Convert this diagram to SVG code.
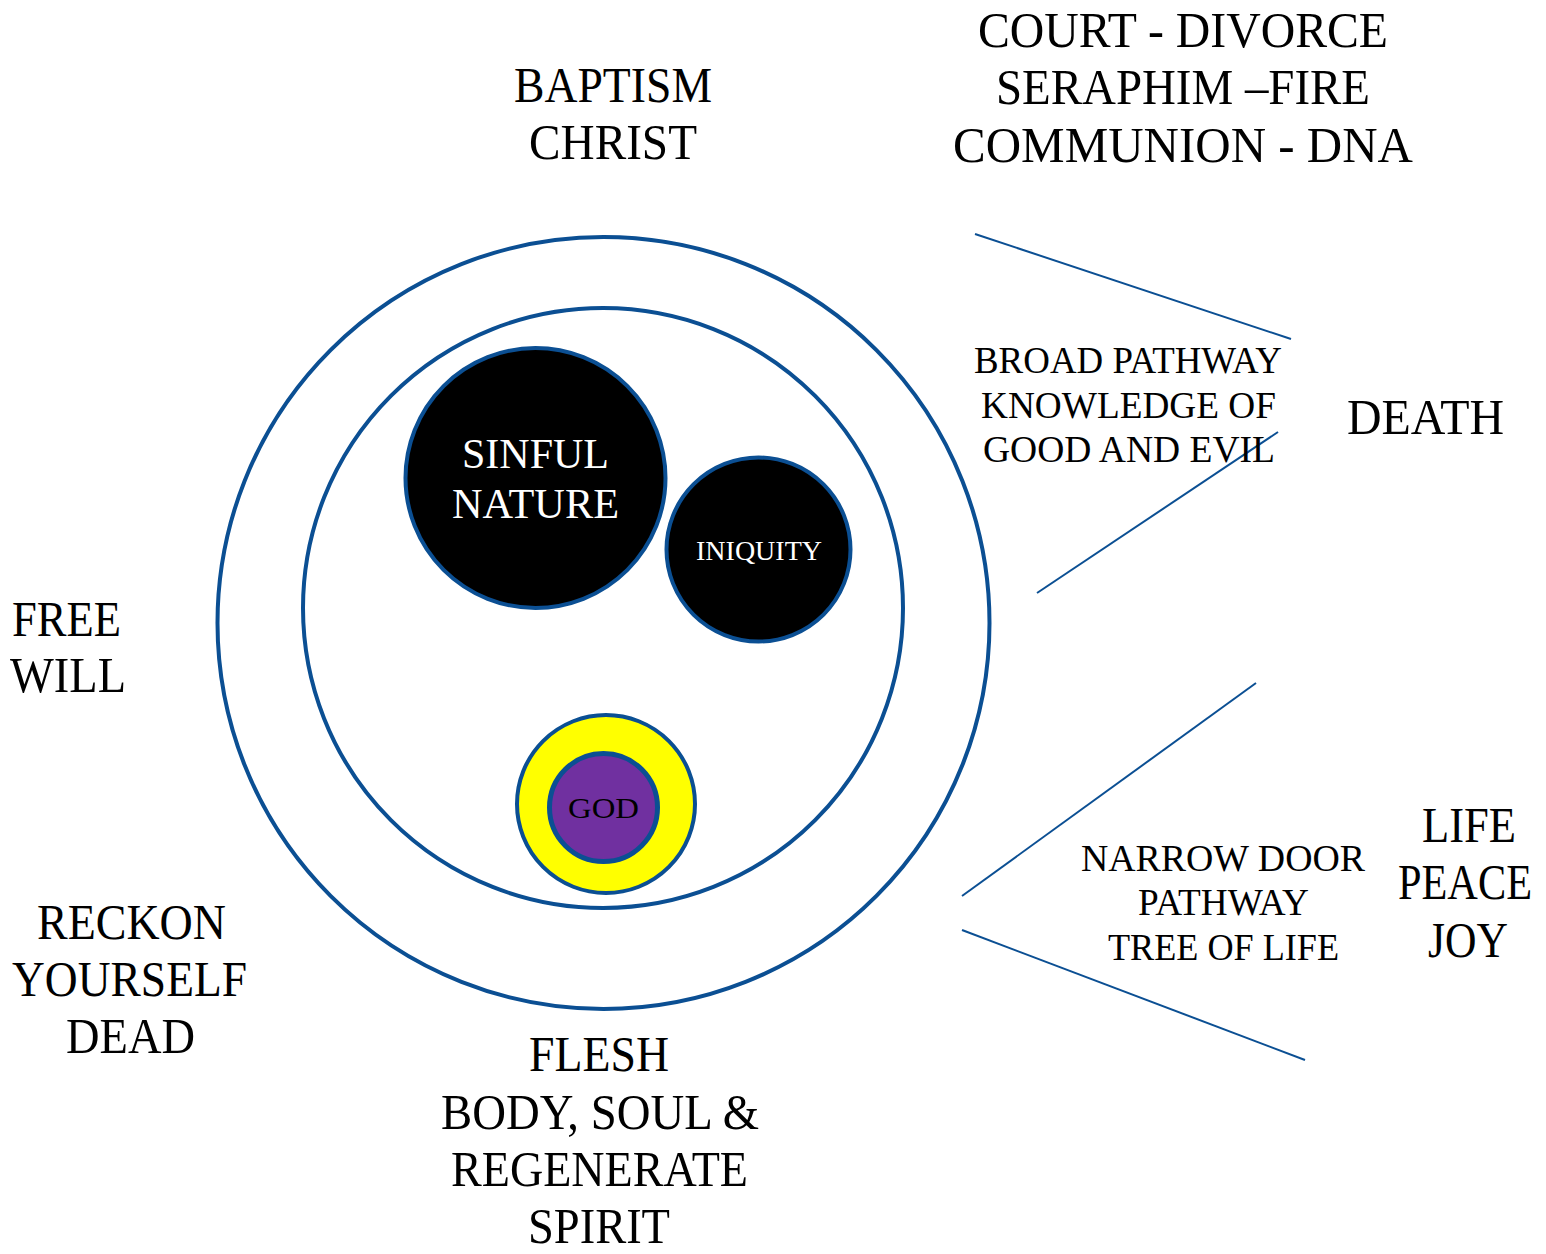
<svg xmlns="http://www.w3.org/2000/svg" width="1546" height="1254" viewBox="0 0 1546 1254">
<style>
text{font-family:"Liberation Serif","DejaVu Serif",serif;fill:#000;text-anchor:middle}
.big{font-size:50px}
.mid{font-size:37px}
.ring{fill:none;stroke:#0B4F93;stroke-width:4}
.blk{fill:#000;stroke:#0B4F93;stroke-width:4}
.conn line{stroke:#0B4F93;stroke-width:2}
.w{fill:#fff}
</style>
<rect width="1546" height="1254" fill="#fff"/>
<g id="outer"><circle class="ring" cx="603.5" cy="623" r="386"/></g>
<g id="inner"><circle class="ring" cx="603" cy="608" r="300"/></g>
<g id="sinful"><circle class="blk" cx="535.5" cy="478" r="130"/>
<text class="w" x="535.5" y="468" font-size="43" textLength="147" lengthAdjust="spacingAndGlyphs">SINFUL</text>
<text class="w" x="535.5" y="518" font-size="43" textLength="167" lengthAdjust="spacingAndGlyphs">NATURE</text></g>
<g id="iniquity"><circle class="blk" cx="758.5" cy="549.5" r="92"/>
<text class="w" x="759" y="560" font-size="28" textLength="126" lengthAdjust="spacingAndGlyphs">INIQUITY</text></g>
<g id="god"><circle cx="606" cy="804" r="89" fill="#FFFF00" stroke="#0B4F93" stroke-width="4"/>
<circle cx="603.5" cy="807.5" r="54" fill="#7030A0" stroke="#0B4F93" stroke-width="5"/>
<text x="603.5" y="818" font-size="30" textLength="71" lengthAdjust="spacingAndGlyphs">GOD</text></g>
<g class="conn" id="connectors">
<line x1="975" y1="234" x2="1291" y2="339"/>
<line x1="1037" y1="593" x2="1278" y2="432"/>
<line x1="962" y1="896" x2="1256" y2="683"/>
<line x1="962" y1="930" x2="1305" y2="1060"/>
</g>
<g id="baptism">
<text class="big" x="613" y="102" textLength="198" lengthAdjust="spacingAndGlyphs">BAPTISM</text>
<text class="big" x="613" y="159" textLength="168" lengthAdjust="spacingAndGlyphs">CHRIST</text></g>
<g id="court">
<text class="big" x="1183" y="47" textLength="410" lengthAdjust="spacingAndGlyphs">COURT - DIVORCE</text>
<text class="big" x="1183" y="104" textLength="374" lengthAdjust="spacingAndGlyphs">SERAPHIM –FIRE</text>
<text class="big" x="1183" y="162" textLength="460" lengthAdjust="spacingAndGlyphs">COMMUNION - DNA</text></g>
<g id="broad">
<text class="mid" x="1128" y="373" textLength="308" lengthAdjust="spacingAndGlyphs">BROAD PATHWAY</text>
<text class="mid" x="1128.5" y="418" textLength="295" lengthAdjust="spacingAndGlyphs">KNOWLEDGE OF</text>
<text class="mid" x="1129" y="462" textLength="292" lengthAdjust="spacingAndGlyphs">GOOD AND EVIL</text></g>
<g id="death"><text class="big" x="1425.5" y="434" textLength="157" lengthAdjust="spacingAndGlyphs">DEATH</text></g>
<g id="freewill">
<text class="big" x="66.5" y="636" textLength="109" lengthAdjust="spacingAndGlyphs">FREE</text>
<text class="big" x="68" y="692" textLength="116" lengthAdjust="spacingAndGlyphs">WILL</text></g>
<g id="reckon">
<text class="big" x="131.5" y="939" textLength="189" lengthAdjust="spacingAndGlyphs">RECKON</text>
<text class="big" x="129.5" y="996" textLength="235" lengthAdjust="spacingAndGlyphs">YOURSELF</text>
<text class="big" x="130.5" y="1053" textLength="129" lengthAdjust="spacingAndGlyphs">DEAD</text></g>
<g id="flesh">
<text class="big" x="599" y="1071" textLength="140" lengthAdjust="spacingAndGlyphs">FLESH</text>
<text class="big" x="600" y="1129" textLength="318" lengthAdjust="spacingAndGlyphs">BODY, SOUL &amp;</text>
<text class="big" x="599.5" y="1186" textLength="297" lengthAdjust="spacingAndGlyphs">REGENERATE</text>
<text class="big" x="599" y="1243" textLength="142" lengthAdjust="spacingAndGlyphs">SPIRIT</text></g>
<g id="narrow">
<text class="mid" x="1223" y="871" textLength="284" lengthAdjust="spacingAndGlyphs">NARROW DOOR</text>
<text class="mid" x="1223.5" y="915" textLength="171" lengthAdjust="spacingAndGlyphs">PATHWAY</text>
<text class="mid" x="1223.5" y="960" textLength="231" lengthAdjust="spacingAndGlyphs">TREE OF LIFE</text></g>
<g id="life">
<text class="big" x="1469" y="842" textLength="94" lengthAdjust="spacingAndGlyphs">LIFE</text>
<text class="big" x="1465" y="899" textLength="134" lengthAdjust="spacingAndGlyphs">PEACE</text>
<text class="big" x="1468" y="957" textLength="80" lengthAdjust="spacingAndGlyphs">JOY</text></g>
</svg>
